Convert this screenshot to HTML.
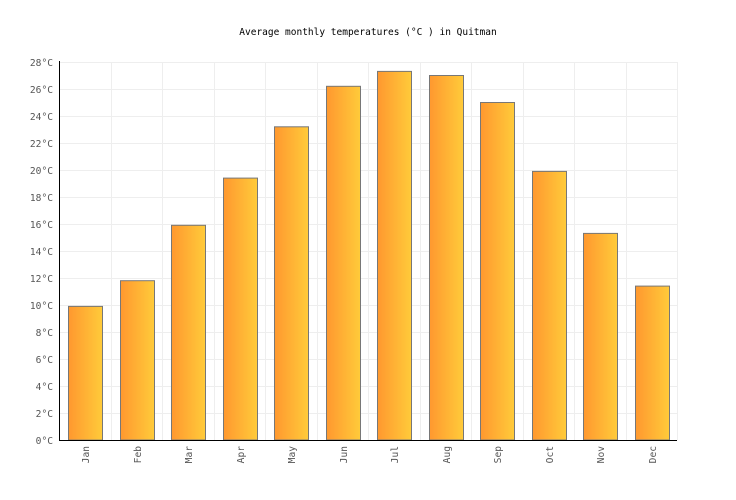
<!DOCTYPE html>
<html><head><meta charset="utf-8"><style>body{margin:0;background:#fff}svg{display:block}</style></head><body>
<svg width="736" height="500" xmlns="http://www.w3.org/2000/svg" font-family="'DejaVu Sans Mono','Liberation Mono',monospace">
<defs><linearGradient id="g" x1="0" x2="1" y1="0" y2="0"><stop offset="0" stop-color="#ff982f"/><stop offset="1" stop-color="#ffcb3a"/></linearGradient></defs>
<rect width="736" height="500" fill="#fff"/>
<text x="368" y="35" text-anchor="middle" font-size="9.5" fill="#000">Average monthly temperatures (°C ) in Quitman</text>
<g id="grid" stroke="#eeeeee" stroke-width="1"></g>
<g id="bars"></g>
<g id="lab" font-size="9.6" fill="#555"></g>
<line x1="59.5" y1="61" x2="59.5" y2="440" stroke="#000"/>
<line x1="59" y1="440.5" x2="677" y2="440.5" stroke="#000"/>
<script>
var ns="http://www.w3.org/2000/svg";
function el(p,t,a,txt){var e=document.createElementNS(ns,t);for(var k in a)e.setAttribute(k,a[k]);if(txt)e.textContent=txt;document.getElementById(p).appendChild(e);}
for(var i=0;i<=14;i++){var y=440-i*27;el('grid','line',{x1:59,x2:677,y1:y+0.5,y2:y+0.5});el('lab','text',{x:53,y:y+4,'text-anchor':'end'},(i*2)+'°C');}
for(var i=1;i<=12;i++){var x=Math.round(59+i*51.5)+0.5;el('grid','line',{x1:x,x2:x,y1:62,y2:440});}
var v=[9.9,11.8,15.9,19.4,23.2,26.2,27.3,27.0,25.0,19.9,15.3,11.4];
var m=['Jan','Feb','Mar','Apr','May','Jun','Jul','Aug','Sep','Oct','Nov','Dec'];
for(var i=0;i<12;i++){var x=59+i*51.5+9;var h=v[i]*13.5;
el('bars','rect',{x:Math.round(x)+0.5,y:(440-h).toFixed(1),width:34,height:h.toFixed(1),fill:'url(#g)',stroke:'#777','stroke-width':1});
var cx=Math.round(x)+17+4;el('lab','text',{x:cx,y:446,'text-anchor':'end',transform:'rotate(-90 '+cx+' 446)'},m[i]);}
</script>
</svg>
</body></html>
